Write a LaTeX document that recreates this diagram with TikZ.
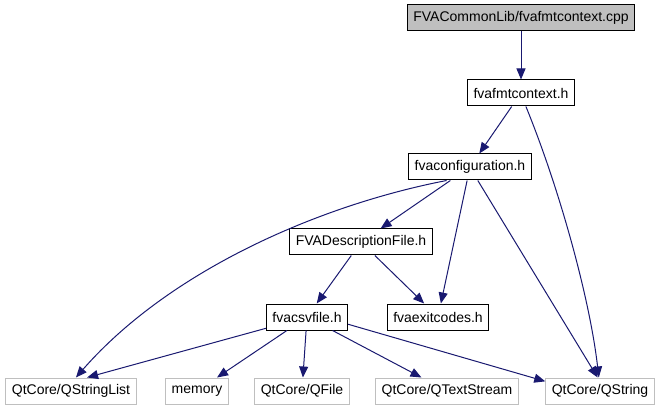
\documentclass[tikz,border=0pt]{standalone}
\usepackage{fontspec}
\setmainfont{Liberation Sans}
\usetikzlibrary{arrows.meta}
\definecolor{depedge}{rgb}{0.098,0.098,0.439}
\definecolor{depgray}{rgb}{0.749,0.749,0.749}
\definecolor{deptext}{rgb}{0.0,0.0,0.0}

\begin{document}
\begin{tikzpicture}[x=1pt,y=-1pt,
  filenode/.style={draw=black,line width=1pt,minimum height=26pt,inner xsep=6pt,font=\fontsize{14}{16}\selectfont,text=deptext},
  sysnode/.style={filenode,draw=depgray},
  rootnode/.style={filenode,fill=depgray},
  dep/.style={depedge,line width=1pt,-{Triangle[length=11pt,width=9pt]}}]
\useasboundingbox (0,0) rectangle (663,411);
\node[rootnode] (cpp) at (521,18) {FVACommonLib/fvafmtcontext.cpp};
\node[filenode] (fmt) at (521,93) {fvafmtcontext.h};
\node[filenode] (cfg) at (470,167) {fvaconfiguration.h};
\node[filenode] (desc) at (361,242) {FVADescriptionFile.h};
\node[filenode] (csv) at (307,317) {fvacsvfile.h};
\node[filenode] (exit) at (438,317) {fvaexitcodes.h};
\node[sysnode] (qsl) at (71,391) {QtCore/QStringList};
\node[sysnode] (mem) at (197,391) {memory};
\node[sysnode] (qfile) at (302,391) {QtCore/QFile};
\node[sysnode] (qts) at (447,391) {QtCore/QTextStream};
\node[sysnode] (qstr) at (600,391) {QtCore/QString};
\draw[dep] (cpp) -- (fmt);
\draw[dep] (fmt) -- (cfg);
\draw[dep] (fmt.-70) .. controls (560,190) and (590,300) .. (qstr.95);
\draw[dep] (cfg.-150) .. controls (320,205) and (170,270) .. (qsl.70);
\draw[dep] (cfg) -- (desc);
\draw[dep] (cfg) -- (exit);
\draw[dep] (cfg.-60) -- (qstr.100);
\draw[dep] (desc) -- (csv);
\draw[dep] (desc) -- (exit);
\draw[dep] (csv) -- (qsl.40);
\draw[dep] (csv) -- (mem);
\draw[dep] (csv) -- (qfile);
\draw[dep] (csv) -- (qts);
\draw[dep] (csv.-10) -- (qstr.170);
\end{tikzpicture}
\end{document}
